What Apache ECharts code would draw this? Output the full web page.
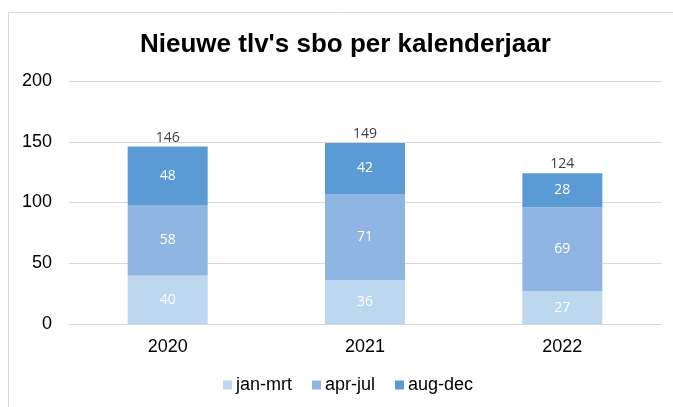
<!DOCTYPE html>
<html><head><meta charset="utf-8">
<script src="https://cdn.jsdelivr.net/npm/echarts@6/dist/echarts.min.js"></script>
<style>html,body{margin:0;padding:0;background:#fff}#c{width:673px;height:407px}</style>
</head><body><div id="c"></div>
<script>
const categories = ['2020', '2021', '2022'];
const janMrt = [40, 36, 27];
const aprJul = [58, 71, 69];
const augDec = [48, 42, 28];
const totals = [146, 149, 124];
const yTicks = [0, 50, 100, 150, 200];

const chart = echarts.init(document.getElementById('c'), null, {renderer: 'canvas'});
const font = 'Arial, "Liberation Sans", sans-serif';
const inLabel = {show: true, position: 'inside', color: '#ffffff', fontSize: 14, fontFamily: '"Open Sans", Calibri, sans-serif'};
chart.setOption({
  animation: false,
  backgroundColor: '#fff',
  graphic: [{type: 'rect', shape: {x: 8.5, y: 12.5, width: 700, height: 420}, style: {fill: 'none', stroke: '#d9d9d9', lineWidth: 1}, z: -1}],
  title: {text: "Nieuwe tlv's sbo per kalenderjaar", left: 135, top: 27,
    textStyle: {fontFamily: font, fontSize: 26, fontWeight: 'bold', color: '#000'}},
  legend: {top: 371, left: 218, itemWidth: 9, itemHeight: 9, itemGap: 20, icon: 'rect',
    data: ['jan-mrt', 'apr-jul', 'aug-dec'],
    textStyle: {fontFamily: font, fontSize: 18, color: '#000', padding: [0, 0, 0, -1]}},
  grid: {left: 69, right: 12, top: 81, bottom: 83, containLabel: false},
  xAxis: {type: 'category', data: categories,
    axisLine: {show: true, lineStyle: {color: '#d9d9d9', width: 1}}, axisTick: {show: false},
    axisLabel: {fontFamily: font, fontSize: 18, color: '#000', margin: 14}},
  yAxis: {type: 'value', min: yTicks[0], max: yTicks[yTicks.length - 1], interval: 50,
    axisLine: {show: false}, axisTick: {show: false},
    splitLine: {lineStyle: {color: '#d9d9d9', width: 1}},
    axisLabel: {fontFamily: font, fontSize: 18, color: '#000', margin: 17}},
  series: [
    {name: 'jan-mrt', type: 'bar', stack: 't', data: janMrt, barWidth: 80, itemStyle: {color: '#bdd7ee'}, label: inLabel},
    {name: 'apr-jul', type: 'bar', stack: 't', data: aprJul, itemStyle: {color: '#8fb6e2'}, label: inLabel},
    {name: 'aug-dec', type: 'bar', stack: 't', data: augDec, itemStyle: {color: '#5b9bd5'}, label: inLabel},
    {name: 'total', type: 'bar', stack: 't', data: totals.map(() => 0), itemStyle: {color: 'transparent'},
      label: {show: true, position: 'top', distance: 2, color: '#404040', fontSize: 14,
        fontFamily: '"Open Sans", Calibri, sans-serif', formatter: p => totals[p.dataIndex]}}
  ]
});
</script></body></html>
